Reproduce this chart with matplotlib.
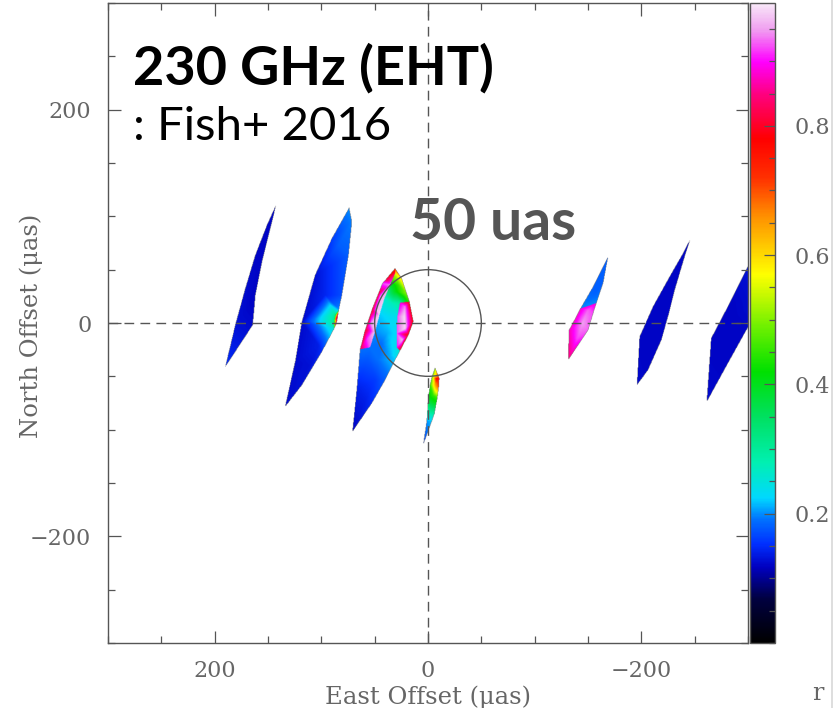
import numpy as np
import matplotlib
matplotlib.use("Agg")
import matplotlib.pyplot as plt
import matplotlib.tri as mtri
from matplotlib.colors import LinearSegmentedColormap, Normalize
from matplotlib.cm import ScalarMappable
from matplotlib.patches import Circle
from matplotlib.path import Path
from matplotlib.lines import Line2D
from matplotlib.ticker import MultipleLocator

# ---- colour scale for r ----
R_MIN, R_MAX = 0.0, 0.99
R_STOPS = [0.0, 0.068, 0.117, 0.153, 0.19, 0.224, 0.28, 0.35, 0.42, 0.49,
           0.57, 0.66, 0.72, 0.78, 0.85, 0.90, 0.95, 0.99]
R_COLORS = ["#000000", "#000040", "#0000c0", "#0030ff", "#0070ff", "#00d8ff",
            "#00f0b0", "#00e060", "#00e000", "#70f000", "#ffff00", "#ff9000",
            "#ff3000", "#ff0000", "#ff0080", "#ff00ff", "#f0a0f0", "#f8e8f8"]

# ---- sampled patches: (East offset, North offset, r) ----
# *_EDGE lists trace the outline in order, *_CORE are interior samples
BLOB1_EDGE = [(142.7, 110.5, 0.12), (146.4, 94.9, 0.12), (155.8, 57.4, 0.12),
              (162.0, 26.2, 0.12), (164.5, -1.9, 0.125), (190.1, -40.9, 0.15),
              (180.8, -1.9, 0.13), (171.4, 32.5, 0.125), (162.0, 63.7, 0.12),
              (151.1, 91.8, 0.12)]
BLOB1_CORE = [(165.0, 20.0, 0.12), (172.0, -10.0, 0.13)]

BLOB2_EDGE = [(74.0, 108.0, 0.20), (71.5, 94.9, 0.195), (74.6, 63.7, 0.18),
              (80.8, 26.2, 0.17), (83.6, 13.0, 0.20), (84.3, 9.0, 0.80),
              (85.2, 3.0, 0.88), (86.6, -2.0, 0.80), (88.5, -6.0, 0.25),
              (99.6, -26.9, 0.15), (118.3, -58.1, 0.13),
              (134.0, -78.4, 0.125), (124.6, -36.2, 0.125), (118.3, 1.2, 0.125),
              (105.9, 45.0, 0.13), (90.2, 79.3, 0.16)]
BLOB2_CORE = [(84.0, 73.0, 0.18), (96.5, 26.2, 0.145), (102.7, -20.6, 0.14),
              (110.0, -40.0, 0.13), (86.5, 4.0, 0.75), (88.5, 1.0, 0.30),
              (87.0, 8.0, 0.30)]

# the arc crossing the ring: a cyan/blue body with two pink lobes
BLOB3C_EDGE = [(30.91, 51.21, 0.74), (24.67, 41.85, 0.60), (19.98, 27.79, 0.50),
               (17.48, 20.01, 0.45), (26.23, 19.05, 0.30), (28.72, 5.94, 0.24),
               (29.35, -9.68, 0.23), (29.35, -22.79, 0.24), (26.23, -25.91, 0.26),
               (30.91, -34.66, 0.22), (40.28, -53.39, 0.18), (52.77, -75.25, 0.15),
               (70.88, -101.79, 0.12), (66.82, -62.76, 0.14), (63.70, -24.67, 0.19),
               (54.33, -22.79, 0.19), (49.65, -8.12, 0.20), (45.59, 7.50, 0.22),
               (40.90, 23.11, 0.26), (35.59, 35.60, 0.38), (30.91, 46.53, 0.55)]
BLOB3C_CORE = [(27.79, 35.60, 0.45), (30.91, 29.36, 0.40), (34.03, 18.43, 0.27),
               (37.16, 5.94, 0.23), (38.72, -9.68, 0.21), (43.40, -19.05, 0.19),
               (46.52, -34.66, 0.19), (55.89, -31.54, 0.18), (49.65, -53.39, 0.16),
               (59.01, -72.13, 0.14), (35.59, -31.54, 0.21)]
BLOB3L_EDGE = [(30.91, 51.21, 0.74), (38.72, 41.85, 0.80), (46.52, 27.79, 0.80),
               (52.77, 12.18, 0.80), (59.01, -6.55, 0.80), (63.70, -24.67, 0.82),
               (54.33, -22.79, 0.93), (49.65, -8.12, 0.97), (45.59, 7.50, 0.98),
               (40.90, 23.11, 0.97), (35.59, 35.60, 0.94), (30.91, 46.53, 0.82)]
BLOB3L_CORE = [(42.78, 37.16, 0.92), (48.09, 12.18, 0.96), (53.39, -0.31, 0.95),
               (57.00, -15.00, 0.92), (44.50, 25.00, 0.95)]
BLOB3R_EDGE = [(17.48, 20.01, 0.78), (13.74, 1.25, 0.78), (18.42, -11.24, 0.78),
               (26.23, -25.91, 0.78), (29.35, -22.79, 0.90), (29.35, -9.68, 0.92),
               (28.72, 5.94, 0.92), (26.23, 19.05, 0.88)]
BLOB3R_CORE = [(22.17, 5.94, 0.98), (21.54, -4.99, 0.98), (24.04, -15.92, 0.96),
               (21.54, 15.30, 0.94)]

BLOB4_EDGE = [(-6.6, -41.8, 0.50), (-10.6, -51.8, 0.78), (-10.0, -60.0, 0.70),
              (-8.7, -70.6, 0.45), (-6.0, -85.0, 0.30), (-3.4, -92.4, 0.22),
              (4.4, -113.7, 0.16), (1.2, -92.4, 0.20), (-0.3, -70.6, 0.40),
              (-2.0, -58.0, 0.45), (-3.4, -51.8, 0.48)]
BLOB4_CORE = [(-8.0, -52.0, 0.78), (-7.0, -58.0, 0.65), (-5.5, -50.0, 0.55),
              (-5.0, -68.0, 0.45), (-4.0, -78.0, 0.36)]

# the short arc right of centre: a blue upper half and a pink lower half
BLOB5A_EDGE = [(-168.9, 62.1, 0.18), (-164.2, 37.2, 0.18), (-157.9, 18.7, 0.20),
               (-143.0, 13.5, 0.20), (-154.9, 34.0, 0.18), (-164.2, 52.8, 0.18)]
BLOB5A_CORE = [(-158.0, 30.0, 0.18)]
BLOB5B_EDGE = [(-157.9, 18.7, 0.88), (-154.9, 9.1, 0.92), (-150.2, -6.6, 0.93),
               (-131.5, -34.7, 0.84), (-132.4, -6.6, 0.87), (-141.5, 10.5, 0.88),
               (-143.0, 13.5, 0.88)]
BLOB5B_CORE = [(-150.0, 12.0, 0.93), (-145.0, 0.0, 0.95), (-140.0, -15.0, 0.92)]

BLOB6_EDGE = [(-246.0, 78.4, 0.12), (-240.7, 62.1, 0.12), (-231.4, 30.9, 0.12),
              (-225.1, 5.9, 0.12), (-218.9, -15.9, 0.12), (-206.4, -44.0, 0.12),
              (-196.1, -58.1, 0.125), (-198.6, -12.8, 0.12), (-211.1, 15.3, 0.12),
              (-226.7, 43.4, 0.12), (-239.2, 65.2, 0.12)]
BLOB6_CORE = [(-220.0, 10.0, 0.12)]

BLOB7_EDGE = [(-261.6, -73.7, 0.125), (-265.7, -14.4, 0.12), (-282.9, 18.4, 0.12),
              (-300.1, 52.8, 0.13), (-318.0, 88.0, 0.14), (-330.0, 60.0, 0.14),
              (-315.0, 22.0, 0.13), (-296.9, -9.7, 0.12), (-281.3, -37.8, 0.12)]
BLOB7_CORE = [(-285.0, 5.0, 0.12)]

PATCHES = [(BLOB1_EDGE, BLOB1_CORE), (BLOB2_EDGE, BLOB2_CORE),
           (BLOB3C_EDGE, BLOB3C_CORE), (BLOB3L_EDGE, BLOB3L_CORE),
           (BLOB3R_EDGE, BLOB3R_CORE), (BLOB4_EDGE, BLOB4_CORE),
           (BLOB5A_EDGE, BLOB5A_CORE), (BLOB5B_EDGE, BLOB5B_CORE),
           (BLOB6_EDGE, BLOB6_CORE), (BLOB7_EDGE, BLOB7_CORE)]

RING_RADIUS = 50.0
CBAR_TICKS = [0.2, 0.4, 0.6, 0.8]
AXIS_TICKS = [-200, 0, 200]
EXTENT = 300.0

GRAY = "#555555"
LABEL_GRAY = "#666666"
SERIF = ["DejaVu Serif"]
SANS = ["Lato", "DejaVu Sans"]

cmap = LinearSegmentedColormap.from_list(
    "rmap", [(s / R_MAX, c) for s, c in zip(R_STOPS, R_COLORS)], N=512)
norm = Normalize(vmin=R_MIN, vmax=R_MAX)

W, H = 834, 708
fig = plt.figure(figsize=(W / 100, H / 100), dpi=100)
ax = fig.add_axes([108 / W, 65 / H, 640 / W, 640 / H])

# resample every patch onto one fine map grid (linear interpolation of r)
gx = np.linspace(-EXTENT, EXTENT, 1201)
gy = np.linspace(-EXTENT, EXTENT, 1201)
GX, GY = np.meshgrid(gx, gy)
rmap = np.full(GX.shape, np.nan)
for edge, core in PATCHES:
    pts = np.array(edge + core, dtype=float)
    tri = mtri.Triangulation(pts[:, 0], pts[:, 1])
    outline = Path(np.array(edge, dtype=float)[:, :2])
    cx = pts[tri.triangles, 0].mean(axis=1)
    cy = pts[tri.triangles, 1].mean(axis=1)
    tri.set_mask(~outline.contains_points(np.column_stack([cx, cy])))
    vals = mtri.LinearTriInterpolator(tri, pts[:, 2])(GX, GY)
    filled = ~np.ma.getmaskarray(vals)
    rmap[filled] = np.ma.getdata(vals)[filled]

ax.imshow(np.ma.masked_invalid(rmap), origin="lower", cmap=cmap, norm=norm,
          extent=(-EXTENT, EXTENT, -EXTENT, EXTENT), interpolation="bilinear",
          aspect="auto", zorder=1)

ax.axhline(0, color=GRAY, lw=1.0, ls=(0, (7, 4.5)), zorder=3)
ax.axvline(0, color=GRAY, lw=1.0, ls=(0, (7, 4.5)), zorder=3)
ax.add_patch(Circle((0, 0), RING_RADIUS, fill=False, ec=GRAY, lw=1.0, zorder=3))

ax.set_xlim(EXTENT, -EXTENT)
ax.set_ylim(-EXTENT, EXTENT)
ax.set_xticks(AXIS_TICKS)
ax.set_yticks(AXIS_TICKS)
ax.xaxis.set_minor_locator(MultipleLocator(50))
ax.yaxis.set_minor_locator(MultipleLocator(50))
ax.tick_params(which="both", direction="in", top=True, right=True,
               color=GRAY, width=0.9)
ax.tick_params(which="major", length=9, pad=12, labelsize=16,
               labelcolor=LABEL_GRAY)
ax.tick_params(which="minor", length=5)
for lab in ax.get_xticklabels() + ax.get_yticklabels():
    lab.set_family(SERIF)
for sp in ax.spines.values():
    sp.set_color(GRAY)
    sp.set_linewidth(1.0)

# colour bar
cax = fig.add_axes([750 / W, 65 / H, 25 / W, 640 / H])
cb = fig.colorbar(ScalarMappable(norm=norm, cmap=cmap), cax=cax)
cb.set_ticks(CBAR_TICKS)
cb.ax.yaxis.set_minor_locator(MultipleLocator(0.05))
cb.ax.tick_params(which="both", direction="in", color=GRAY, width=0.9)
cb.ax.tick_params(which="major", length=8, pad=14, labelsize=16,
                  labelcolor=LABEL_GRAY)
cb.ax.tick_params(which="minor", length=4)
for lab in cb.ax.get_yticklabels():
    lab.set_family(SERIF)
cb.outline.set_edgecolor(GRAY)
cb.outline.set_linewidth(1.0)

# axis titles
fig.text(428 / W, 1 - 704 / H, "East Offset (\u03bcas)", ha="center",
         va="baseline", fontsize=17.5, color=LABEL_GRAY, family=SERIF)
fig.text(31 / W, 1 - 326 / H, "North Offset (\u03bcas)", ha="center",
         va="center", rotation=90, fontsize=17.5, color=LABEL_GRAY,
         family=SERIF)
fig.text(818 / W, 1 - 700 / H, "r", ha="center", va="baseline", fontsize=17,
         color=LABEL_GRAY, family=SERIF)

# annotations
fig.text(133 / W, 1 - 85 / H, "230 GHz (EHT)", ha="left", va="baseline",
         fontsize=39, fontweight="bold", family=SANS, color="black")
fig.text(133 / W, 1 - 140 / H, ": Fish+ 2016", ha="left", va="baseline",
         fontsize=34, family=SANS, color="black")
fig.text(410 / W, 1 - 240 / H, "50 uas", ha="left", va="baseline",
         fontsize=41, fontweight="bold", family=SANS, color=GRAY)

# page edge on the right
fig.add_artist(Line2D([831.5 / W, 831.5 / W], [0, 1], color="#d8d8d8", lw=1.2))

fig.savefig("out.png", dpi=100)
